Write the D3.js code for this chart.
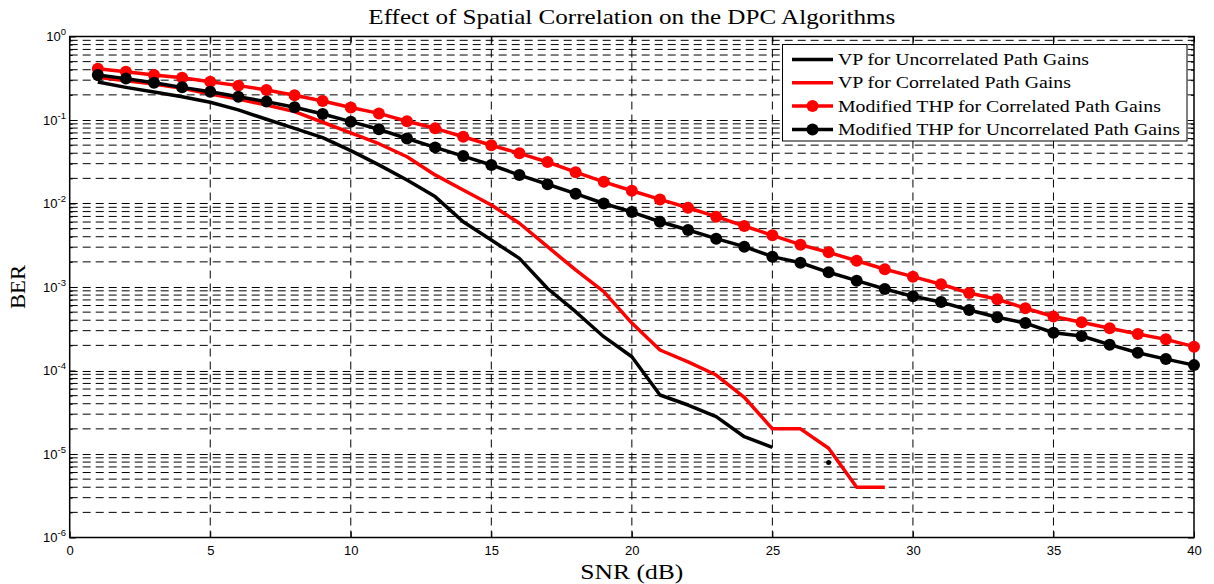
<!DOCTYPE html>
<html>
<head>
<meta charset="utf-8">
<script src="https://cdn.jsdelivr.net/npm/d3@7"></script>
<style>
  html, body { margin: 0; padding: 0; background: #fff; }
  svg { display: block; }
</style>
</head>
<body>
<svg id="chart" width="1214" height="584"></svg>
<script>
// SNR axis (dB)
const snr = [1,2,3,4,5,6,7,8,9,10,11,12,13,14,15,16,17,18,19,20,
             21,22,23,24,25,26,27,28,29,30,31,32,33,34,35,36,37,38,39,40];

// BER curves
const vpUncorr = [0.285,0.246,0.216,0.19,0.163,0.132,0.102,0.0795,0.0615,0.043,
                  0.029,0.0191,0.0121,0.00605,0.00366,0.0022,0.00096,0.000506,0.000254,0.000146,
                  0.0000509,0.0000386,0.000028,0.0000161,0.000012,null,0.0000079];
const vpCorr = [0.325,0.296,0.27,0.24,0.205,0.178,0.151,0.126,0.094,0.07,
                0.052,0.0363,0.022,0.0145,0.0096,0.0058,0.00304,0.0016,0.00088,0.00037,
                0.000176,0.000127,0.0000883,0.0000478,0.00002,0.00002,0.0000117,0.000004,0.000004];
const thpCorr = [0.41,0.379,0.346,0.32,0.288,0.258,0.229,0.198,0.169,0.141,
                 0.120,0.0965,0.0795,0.063,0.0498,0.0399,0.0314,0.0237,0.0182,0.0142,
                 0.0112,0.0089,0.00695,0.00538,0.00416,0.00321,0.0026,0.00206,0.00163,0.00133,
                 0.00108,0.000848,0.000713,0.000556,0.000443,0.000378,0.00032,0.000274,0.000236,0.000193];
const thpUncorr = [0.346,0.313,0.28,0.246,0.218,0.190,0.166,0.142,0.118,0.0955,
                   0.0774,0.060,0.047,0.037,0.0289,0.0219,0.0170,0.0131,0.0100,0.0079,
                   0.00605,0.00482,0.00379,0.00304,0.00231,0.00195,0.0015,0.00119,0.000946,0.000773,
                   0.00066,0.00053,0.000434,0.00037,0.000283,0.000259,0.000204,0.000163,0.000137,0.000116];

const xTicks = [0,5,10,15,20,25,30,35,40];
const yDecades = [1e-6,1e-5,1e-4,1e-3,1e-2,1e-1,1];
const yExponents = ["-6","-5","-4","-3","-2","-1","0"];

const seriesNames = ["VP for Uncorrelated Path Gains",
                     "VP for Correlated Path Gains",
                     "Modified THP for Correlated Path Gains",
                     "Modified THP for Uncorrelated Path Gains"];

const titleText = "Effect of Spatial Correlation on the DPC Algorithms";
const xLabel = "SNR (dB)";
const yLabel = "BER";

const series = [
  { name: seriesNames[0], values: vpUncorr, color: "#000000", markers: false },
  { name: seriesNames[1], values: vpCorr, color: "#ff0000", markers: false },
  { name: seriesNames[2], values: thpCorr, color: "#ff0000", markers: true },
  { name: seriesNames[3], values: thpUncorr, color: "#000000", markers: true }
];

const svg = d3.select("#chart");
const L = 69.7, R = 1194, T = 36.5, B = 537.5;
const serif = "Liberation Serif, Times New Roman, serif";
const sans = "Liberation Sans, Arial, sans-serif";

const x = d3.scaleLinear().domain([0, 40]).range([L, R]);
const y = d3.scaleLog().domain([1e-6, 1]).range([B, T]);

// minor log values (2..9 per decade)
const minors = [];
for (let e = -6; e < 0; e++) {
  for (let m = 2; m <= 9; m++) minors.push(m * Math.pow(10, e));
}

// grid
const grid = svg.append("g").attr("fill", "none").attr("stroke", "#000")
  .attr("stroke-width", 1).attr("stroke-dasharray", "8,5");
grid.selectAll("line.hmin").data(minors).join("line")
  .attr("x1", L).attr("x2", R).attr("y1", d => y(d)).attr("y2", d => y(d));
grid.selectAll("line.hmaj").data(yDecades.slice(1, -1)).join("line")
  .attr("x1", L).attr("x2", R).attr("y1", d => Math.round(y(d)) + 0.5).attr("y2", d => Math.round(y(d)) + 0.5);
grid.selectAll("line.v").data(xTicks.slice(1, -1)).join("line")
  .attr("x1", d => x(d)).attr("x2", d => x(d)).attr("y1", T).attr("y2", B);

// axes (ticks inside the box)
const tickLen = 6;
svg.append("g").attr("transform", `translate(0,${B})`)
  .call(d3.axisBottom(x).tickValues(xTicks).tickSizeInner(-tickLen).tickSizeOuter(0).tickPadding(8).tickFormat(d3.format("d")))
  .call(g => g.select(".domain").remove())
  .call(g => g.selectAll("text").attr("font-family", sans).attr("font-size", 13).attr("fill", "#000"));
svg.append("g").attr("transform", `translate(0,${T})`)
  .call(d3.axisTop(x).tickValues(xTicks).tickSizeInner(-tickLen).tickSizeOuter(0).tickFormat(""))
  .call(g => g.select(".domain").remove());
svg.append("g").attr("transform", `translate(${L},0)`)
  .call(d3.axisLeft(y).tickValues(yDecades).tickSizeInner(-tickLen).tickSizeOuter(0).tickFormat(""))
  .call(g => g.select(".domain").remove());
svg.append("g").attr("transform", `translate(${L},0)`)
  .call(d3.axisLeft(y).tickValues(minors).tickSizeInner(-3).tickSizeOuter(0).tickFormat(""))
  .call(g => g.select(".domain").remove());
svg.append("g").attr("transform", `translate(${R},0)`)
  .call(d3.axisRight(y).tickValues(yDecades).tickSizeInner(-tickLen).tickSizeOuter(0).tickFormat(""))
  .call(g => g.select(".domain").remove());
svg.append("g").attr("transform", `translate(${R},0)`)
  .call(d3.axisRight(y).tickValues(minors).tickSizeInner(-3).tickSizeOuter(0).tickFormat(""))
  .call(g => g.select(".domain").remove());

// y tick labels with superscript exponents
const yl = svg.append("g").attr("font-family", sans).attr("fill", "#000");
yDecades.forEach((d, i) => {
  const t = yl.append("text").attr("x", 66).attr("y", y(d) + 4.5).attr("text-anchor", "end").attr("font-size", 13);
  t.append("tspan").text("10");
  t.append("tspan").attr("dy", -6).attr("font-size", 9.5).text(yExponents[i]);
});

// box
svg.append("rect").attr("x", L).attr("y", T).attr("width", R - L).attr("height", B - T)
  .attr("fill", "none").attr("stroke", "#000").attr("stroke-width", 1.5);

// curves
const line = d3.line().defined(d => d.v != null).x(d => x(d.s)).y(d => y(d.v));
const plot = svg.append("g");
series.forEach(s => {
  const pts = s.values.map((v, i) => ({ s: snr[i], v }));
  plot.append("path").datum(pts).attr("d", line).attr("fill", "none")
    .attr("stroke", s.color).attr("stroke-width", 3.5).attr("stroke-linejoin", "round");
  // isolated samples (no neighbours to connect to)
  const iso = pts.filter((p, i) => p.v != null &&
    (i === 0 || pts[i - 1].v == null) && (i === pts.length - 1 || pts[i + 1].v == null));
  plot.selectAll(null).data(iso).join("circle")
    .attr("cx", d => x(d.s)).attr("cy", d => y(d.v)).attr("r", 2.5).attr("fill", s.color);
  if (s.markers) {
    plot.selectAll(null).data(pts).join("circle")
      .attr("cx", d => x(d.s)).attr("cy", d => y(d.v)).attr("r", 6).attr("fill", s.color);
  }
});

// title and axis labels (glyphs widened to the figure's text widths)
svg.append("text").attr("x", (L + R) / 2).attr("y", 24).attr("text-anchor", "middle")
  .attr("font-family", serif).attr("font-size", 21)
  .attr("textLength", 527).attr("lengthAdjust", "spacingAndGlyphs").text(titleText);
svg.append("text").attr("x", (L + R) / 2).attr("y", 579).attr("text-anchor", "middle")
  .attr("font-family", serif).attr("font-size", 21)
  .attr("textLength", 103).attr("lengthAdjust", "spacingAndGlyphs").text(xLabel);
svg.append("text").attr("transform", `translate(25,${(T + B) / 2}) rotate(-90)`).attr("text-anchor", "middle")
  .attr("font-family", serif).attr("font-size", 21)
  .attr("textLength", 44).attr("lengthAdjust", "spacingAndGlyphs").text(yLabel);

// legend
const legendWidths = [251, 233, 323, 342];
const lg = svg.append("g");
lg.append("rect").attr("x", 782.5).attr("y", 44.5).attr("width", 404.5).attr("height", 96.5)
  .attr("fill", "#fff").attr("stroke", "#000").attr("stroke-width", 1);
series.forEach((s, i) => {
  const cy = 59.5 + i * 23.3;
  lg.append("line").attr("x1", 792).attr("x2", 833).attr("y1", cy).attr("y2", cy)
    .attr("stroke", s.color).attr("stroke-width", 3.5);
  if (s.markers) lg.append("circle").attr("cx", 812.5).attr("cy", cy).attr("r", 6).attr("fill", s.color);
  lg.append("text").attr("x", 838).attr("y", cy + 5.5)
    .attr("font-family", serif).attr("font-size", 17.5)
    .attr("textLength", legendWidths[i]).attr("lengthAdjust", "spacingAndGlyphs").text(s.name);
});
</script>
</body>
</html>
